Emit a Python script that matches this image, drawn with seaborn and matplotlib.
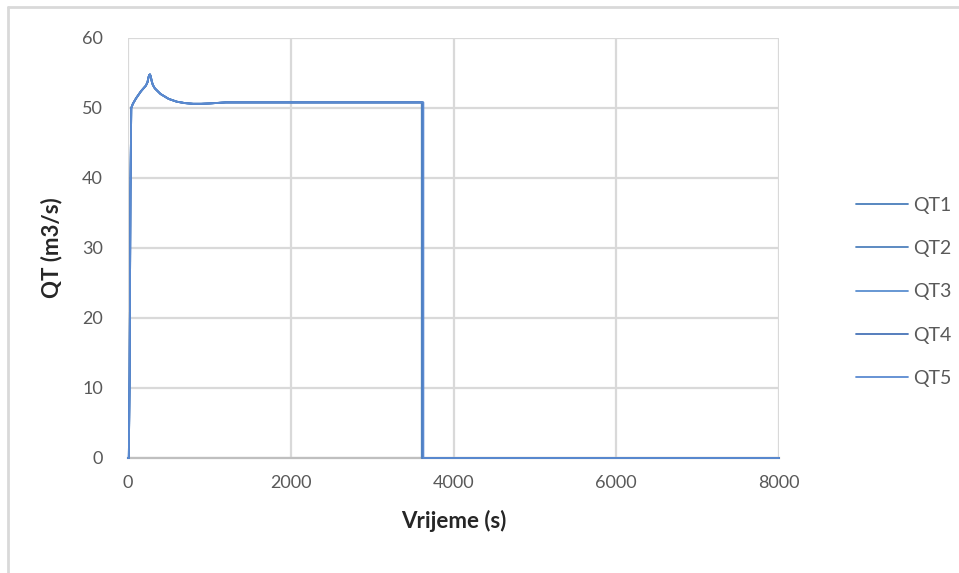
import numpy as np
import pandas as pd
import matplotlib
matplotlib.use('Agg')
import matplotlib.pyplot as plt
from matplotlib.lines import Line2D
import seaborn as sns

# time (s) and flow (m3/s)
time_s = [0, 10, 20, 30, 40, 60, 80, 100, 130, 160, 190, 220, 240, 250, 260,
          270, 280, 290, 305, 330, 400, 500, 600, 700, 800, 900, 1000, 1200,
          1500, 2000, 2500, 3000, 3500]
flow = [0, 0, 12, 38, 50.0, 50.6, 51.0, 51.4, 51.9, 52.4, 52.8, 53.2, 53.7,
        54.3, 54.7, 54.8, 54.5, 53.9, 53.3, 52.8, 52.0, 51.3, 50.9, 50.7, 50.6,
        50.6, 50.65, 50.8, 50.8, 50.8, 50.8, 50.8, 50.8]
end_time = 8000
series = ['QT1', 'QT2', 'QT3', 'QT4', 'QT5']
drop_time = [3610, 3615, 3620, 3625, 3630]
colors = ['#4a7ebb', '#4f81bd', '#5b8fd0', '#4874b8', '#5a8ad1']

rows = []
for name, td in zip(series, drop_time):
    t = time_s + [td, td, end_time]
    q = flow + [flow[-1], 0, 0]
    for a, b in zip(t, q):
        rows.append({'Vrijeme': a, 'QT': b, 'serija': name})
df = pd.DataFrame(rows)

sns.set_style('white')
plt.rcParams['font.family'] = ['Lato', 'DejaVu Sans']

fig = plt.figure(figsize=(9.59, 5.73), dpi=100)
ax = fig.add_axes([128 / 959, 1 - 458 / 573, (779 - 128) / 959, (458 - 38) / 573])

sns.lineplot(data=df, x='Vrijeme', y='QT', hue='serija', palette=colors,
             estimator=None, sort=False, linewidth=1.3, ax=ax)
for ln in ax.lines:
    ln.set_clip_on(False)
    ln.set_zorder(3)

ax.set_xlim(0, 8000)
ax.set_ylim(0, 60)
ax.set_xticks([0, 2000, 4000, 6000, 8000])
ax.set_yticks([0, 10, 20, 30, 40, 50, 60])
ax.grid(True, color='#d9d9d9', linewidth=1.6)
ax.set_axisbelow(True)
for s in ['top', 'right', 'left']:
    ax.spines[s].set_visible(False)
ax.spines['bottom'].set_color('#bfbfbf')
ax.spines['bottom'].set_linewidth(1.6)
ax.spines['bottom'].set_zorder(1)
ax.tick_params(axis='both', length=0, labelsize=13, labelcolor='#595959')
ax.tick_params(axis='y', pad=18)
ax.tick_params(axis='x', pad=12)
ax.set_xlabel('Vrijeme (s)', fontsize=16, fontweight='bold', labelpad=14)
ax.set_ylabel('QT (m3/s)', fontsize=16, fontweight='bold', labelpad=14)

handles, labels = ax.get_legend_handles_labels()
ax.get_legend().remove()
fig.legend(handles, labels, loc='center left', bbox_to_anchor=(838 / 959, 1 - 292 / 573),
           frameon=False, fontsize=14, labelspacing=1.35, handlelength=2.7,
           handletextpad=0.25, labelcolor='#595959')

# outer chart frame
fig.add_artist(Line2D([8 / 959, 8 / 959], [0, 1 - 7 / 573], color='#d9d9d9', linewidth=2))
fig.add_artist(Line2D([8 / 959, 1], [1 - 7 / 573, 1 - 7 / 573], color='#d9d9d9', linewidth=2))

fig.savefig('out.png', dpi=100)
